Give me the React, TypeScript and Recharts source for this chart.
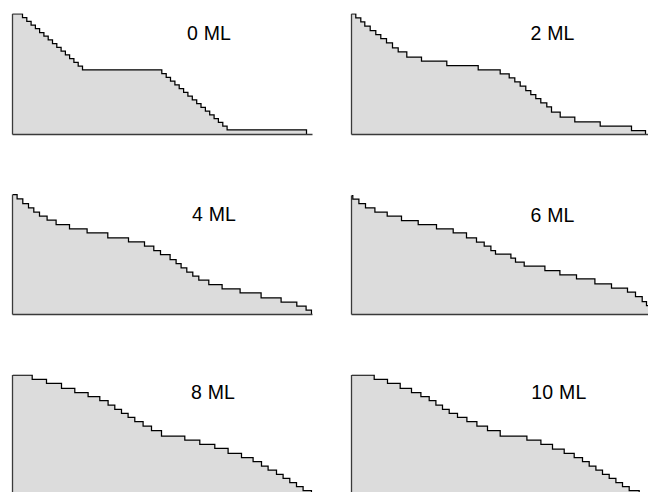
import React from 'react';
import { AreaChart, Area, XAxis, YAxis, ReferenceLine } from 'recharts';

// Panel titles (film coverage)
const panelLabels = ['0 ML', '2 ML', '4 ML', '6 ML', '8 ML', '10 ML'];

// Step profiles: lateral position of each terrace start, and terrace height
const pos0ML = [0, 10, 14.3, 18.6, 22.9, 27.1, 31.4, 35.7, 40, 44.3, 48.6, 52.9, 57.1, 61.4, 65.7, 70, 149.3, 153.7, 158, 162.4, 166.7, 171.1, 175.4, 179.8, 184.2, 188.5, 192.9, 197.2, 201.6, 205.9, 210.3, 214.6, 294];
const h0ML = [120.7, 117, 113.2, 109.5, 105.8, 102, 98.3, 94.6, 90.8, 87.1, 83.4, 79.7, 75.9, 72.2, 68.5, 64.7, 61, 57.2, 53.5, 49.7, 46, 42.2, 38.5, 34.7, 31, 27.2, 23.5, 19.7, 16, 12.2, 8.5, 4.7, 0];

const pos2ML = [0, 4.3, 9.3, 13.3, 18.7, 24.3, 29.3, 35, 41, 46.7, 55.3, 70, 95.3, 126.7, 148.7, 157.7, 163.3, 168.7, 174.3, 179.3, 184.3, 189.3, 195.3, 200, 208.7, 223.3, 248.7, 280, 294];
const h2ML = [120.7, 116.7, 112.7, 108.4, 104, 100, 96, 91.7, 86.7, 82.7, 77.4, 73.4, 69, 64.7, 60.7, 56.7, 52.7, 48.4, 44, 40, 36, 31.7, 27.7, 22.5, 17.3, 12.7, 8.5, 4, 0];

const pos4ML = [0, 4.6, 10.3, 16, 21.3, 27, 34.6, 43.6, 57, 74.6, 95.3, 116, 132, 141.3, 148, 157.6, 163.6, 168.6, 174.3, 180.3, 186.3, 196.3, 209.6, 227.6, 248.6, 268.6, 284.3, 293.6, 299];
const h4ML = [120, 115.7, 111, 106.7, 102.3, 98.3, 94.3, 90, 85.7, 81.7, 76.7, 72.7, 68.3, 64, 60, 55, 51, 46.7, 42.3, 38.3, 34.3, 30, 25.7, 21.7, 16.7, 12.3, 8.3, 4.3, 0];

const pos6ML = [0, 1.3, 7.4, 14, 23.4, 35.7, 50, 66.7, 85, 101.7, 115, 125, 132.7, 139.4, 144, 159.4, 164, 172.7, 193.4, 208.4, 225, 243.4, 260, 276, 284, 290.7, 295, 299];
const h6ML = [119, 115.5, 111, 106.7, 102.3, 98.3, 94, 90, 85.7, 81.7, 76.7, 72.3, 68.3, 64, 60.4, 56.4, 52.4, 48.4, 44, 39.7, 35.7, 30.7, 26.4, 22.4, 18, 13, 9, 0];

const pos8ML = [0, 19.7, 34, 49, 62.3, 75.6, 87.3, 95.6, 102.3, 109, 115.6, 122.3, 130.6, 139, 149, 172.3, 187.3, 202.3, 215.6, 229, 240.6, 249, 255.6, 264, 270.6, 277.3, 284, 290.6, 299];
const h8ML = [120.5, 116.2, 112.2, 107.2, 102.8, 98.8, 94.8, 90.5, 86.2, 82.2, 78.2, 73.8, 69.5, 64.8, 59.5, 55.5, 51.2, 47.2, 42.2, 37.8, 33.8, 29.5, 25.5, 21.2, 17.2, 12.8, 8.8, 4.8, 0];

const pos10ML = [0, 22.7, 36, 48.7, 60, 69.4, 77.7, 84.4, 91, 97.7, 106, 115.4, 125.4, 136, 148.7, 175.4, 189.4, 201, 212.7, 222.7, 231, 237.7, 244.4, 251, 257.7, 264.4, 271, 277.7, 287.7, 299];
const h10ML = [120.5, 116.2, 112.2, 107.2, 102.8, 98.8, 94.8, 90.5, 86.2, 82.2, 78.2, 73.8, 69.5, 64.8, 59.5, 55.5, 51.2, 46.5, 42.2, 37.8, 33.8, 29.5, 25.5, 21.2, 17.2, 12.8, 8.8, 4.8, 2, 0];

const positions = [pos0ML, pos2ML, pos4ML, pos6ML, pos8ML, pos10ML];
const heights = [h0ML, h2ML, h4ML, h6ML, h8ML, h10ML];

const X_MAX = 300;
const Y_MAX = 121;

// layout (pixels)
const PLOT_W = 300;
const PLOT_H = 121;
const PAD = 10;
const axisLefts = [12.5, 351.5, 12.5, 351.5, 12.5, 351.5];
const axisBottoms = [134.5, 134.5, 314.5, 314.5, 495.5, 495.5];
const labelXY = [[187, 39.5], [530.5, 39.7], [192, 220.7], [530.5, 221.5], [191, 399.3], [531.3, 399.3]];

function Panel({ idx }: { idx: number }) {
  const xs = positions[idx];
  const hs = heights[idx];
  const data = xs.map((x, i) => ({ x, h: hs[i] }));
  const ox = axisLefts[idx];
  const oy = axisBottoms[idx] - PLOT_H;
  const divLeft = Math.floor(ox) - PAD;
  const divTop = Math.floor(oy) - PAD;
  const mLeft = ox - divLeft;
  const mTop = oy - divTop;
  return (
    <div style={{ position: 'absolute', left: divLeft, top: divTop }}>
      <AreaChart
        width={mLeft + PLOT_W + PAD}
        height={mTop + PLOT_H + PAD}
        data={data}
        margin={{ top: mTop, left: mLeft, right: PAD, bottom: PAD }}
      >
        <XAxis type="number" dataKey="x" domain={[0, X_MAX]} hide allowDataOverflow />
        <YAxis type="number" domain={[0, Y_MAX]} hide allowDataOverflow />
        <Area
          type="stepAfter"
          dataKey="h"
          stroke="#000"
          strokeWidth={1.25}
          fill="#dcdcdc"
          fillOpacity={1}
          dot={false}
          activeDot={false}
          isAnimationActive={false}
        />
        <ReferenceLine
          segment={[{ x: 0, y: 0 }, { x: X_MAX, y: 0 }]}
          stroke="#3a3a3a"
          strokeWidth={1.3}
          ifOverflow="visible"
        />
        <ReferenceLine
          segment={[{ x: 0, y: 0 }, { x: 0, y: hs[0] }]}
          stroke="#3a3a3a"
          strokeWidth={1.3}
          ifOverflow="visible"
        />
      </AreaChart>
    </div>
  );
}

export default function App() {
  return (
    <div style={{ position: 'absolute', left: 0, top: 0, width: 648, height: 492, overflow: 'hidden', background: '#fff' }}>
      {panelLabels.map((_, i) => (
        <Panel key={i} idx={i} />
      ))}
      <svg width={648} height={492} style={{ position: 'absolute', left: 0, top: 0, pointerEvents: 'none' }}>
        {panelLabels.map((t, i) => (
          <text
            key={t}
            x={labelXY[i][0]}
            y={labelXY[i][1]}
            fontFamily="'Liberation Sans', Arial, Helvetica, sans-serif"
            fontSize={19.5}
            letterSpacing={0.2}
            fill="#000"
          >
            {t}
          </text>
        ))}
      </svg>
    </div>
  );
}
